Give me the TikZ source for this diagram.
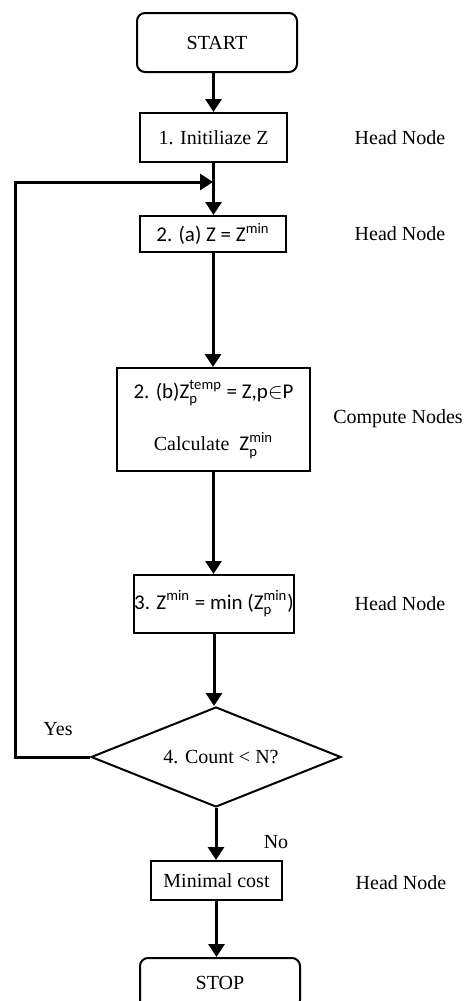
\documentclass[tikz,border=0pt]{standalone}
\usepackage{amsmath, fontspec}
\setmainfont{Liberation Serif}
\newfontfamily\calib{Carlito}
\usetikzlibrary{shapes.geometric, arrows.meta}

\tikzset{
	termbox/.style={draw, line width=1pt, rounded corners=4pt, minimum width=80pt, inner sep=0pt},
	procbox/.style={draw, line width=1pt, inner sep=0pt},
	decbox/.style={draw, diamond, line width=1pt, inner sep=0pt, aspect=2.5, minimum width=125pt, minimum height=50pt},
	flow/.style={line width=1.5pt, -{Triangle[width=8pt,length=6.5pt]}},
	note/.style={font=\fontsize{10}{12}\selectfont}
}

\begin{document}
\begin{tikzpicture}[x=0.5pt, y=-0.5pt, font=\fontsize{10}{12}\selectfont]
	\useasboundingbox (0,0) rectangle (463,1001);
	
	\node[termbox, minimum height=29.5pt] (start) at (217,42.5) {START};
	\node[procbox, minimum width=73.5pt, minimum height=24.5pt] (init) at (213.5,137.5) {1. Initiliaze Z};
	\node[procbox, minimum width=73pt, minimum height=18pt, font=\calib\fontsize{10.5}{12}\selectfont] (zreset) at (213,234) {2. (a) Z = $\text{Z}^{\text{min}}$};
	\node[procbox, minimum width=96.5pt, minimum height=51.5pt, align=center] (zcompute) at (213.5,419.5)
		{{\calib\fontsize{10.5}{12}\selectfont 2. (b)$\text{Z}_{\text{p}}^{\text{temp}}$ = Z,p$\in$P}\\[12pt]
		 Calculate\ \ {\calib\fontsize{10.5}{12}\selectfont$\text{Z}_{\text{p}}^{\text{min}}$}};
	\node[procbox, minimum width=80pt, minimum height=29pt, font=\calib\fontsize{10.5}{12}\selectfont] (zmin) at (214,604)
		{3. $\text{Z}^{\text{min}}$ = min ($\text{Z}_{\text{p}}^{\text{min}}$)};
	\node[decbox] (count) at (216,757) {\ \ 4. Count < N?};
	\node[procbox, minimum width=65.5pt, minimum height=19.5pt] (cost) at (216.5,880.5) {Minimal cost};
	\node[termbox, minimum height=25pt] (stop) at (220,983) {STOP};
	
	\node[note] (head1) at (400,137.5) {Head Node};
	\node[note] (head2) at (400,234) {Head Node};
	\node[note] (compute) at (398,419) {Compute Nodes};
	\node[note] (head3) at (400,604) {Head Node};
	\node[note] (head4) at (401,883) {Head Node};
	\node[note] (yes) at (58,729) {Yes};
	\node[note] (no) at (276,842) {No};
	
	\coordinate (join) at (213,182);
	\coordinate (back) at (15,182);
	
	\draw[flow] (start.south -| init) -- (init.north);
	\draw[flow] (init.south) -- (init.south |- zreset.north);
	\draw[flow] (zreset.south) -- (zreset.south |- zcompute.north);
	\draw[flow] (zcompute.south) -- (zcompute.south |- zmin.north);
	\draw[flow] (zmin.south) -- (zmin.south |- count.north);
	\draw[flow] (count.south) -- (count.south |- cost.north);
	\draw[flow] (cost.south) -- (cost.south |- stop.north);
	\draw[flow] (count.west) -| (back) -- (join);
\end{tikzpicture}
\end{document}
